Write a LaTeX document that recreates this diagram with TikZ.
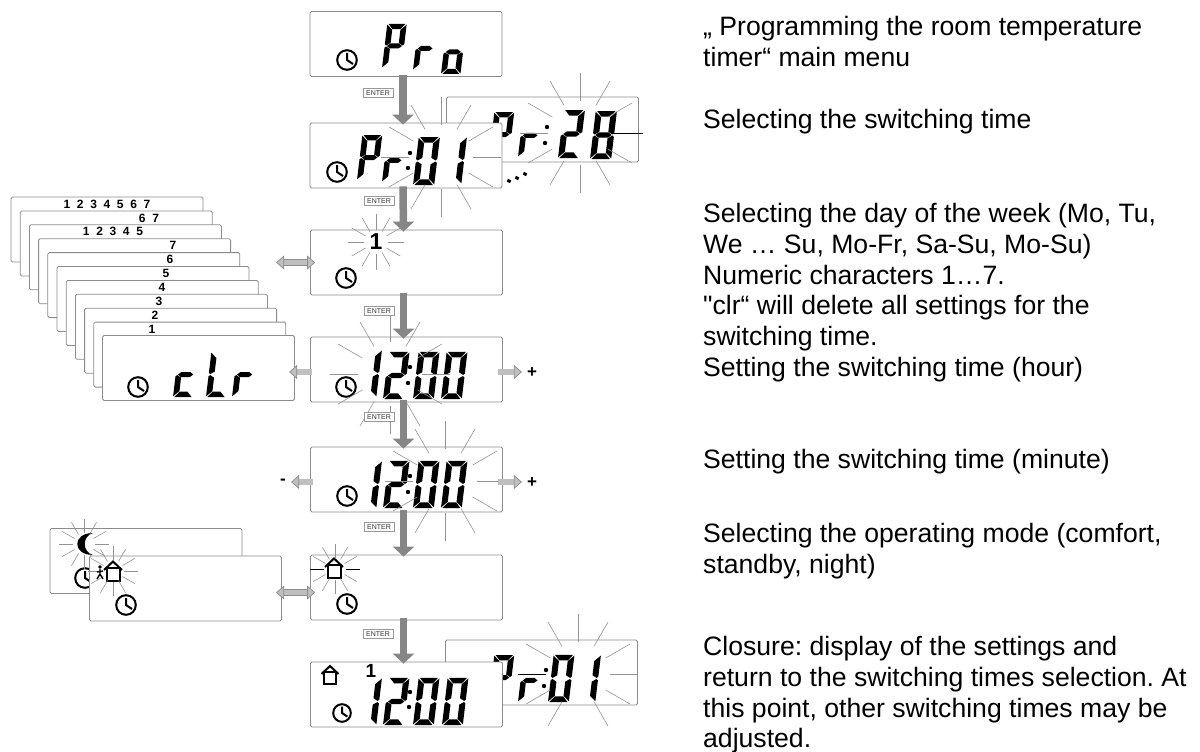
\documentclass[tikz,border=0pt]{standalone}
\usepackage{fontspec}
\setmainfont{Liberation Sans}
\newfontfamily\notefont{Liberation Sans}
\usetikzlibrary{arrows.meta, calc}

% one segment each, digit is 18 wide and 44 high, origin at the lower left
\newcommand{\sega}{(1.2,-44)--(16.8,-44)--(12.6,-38.8)--(5.4,-38.8)--cycle}
\newcommand{\segb}{(18,-43.4)--(18,-23.8)--(16.6,-22.5)--(12.8,-25)--(12.8,-38.2)--cycle}
\newcommand{\segc}{(16.6,-21.5)--(18,-20.2)--(18,-0.6)--(12.8,-5.8)--(12.8,-19)--cycle}
\newcommand{\segd}{(1.2,0)--(16.8,0)--(12.6,-5.2)--(5.4,-5.2)--cycle}
\newcommand{\sege}{(0,-0.6)--(0,-20.2)--(1.4,-21.5)--(5.2,-19)--(5.2,-5.8)--cycle}
\newcommand{\segf}{(0,-43.4)--(5.2,-38.2)--(5.2,-25)--(1.4,-22.5)--(0,-23.8)--cycle}
\newcommand{\segg}{(2,-22)--(5,-24.5)--(13,-24.5)--(16,-22)--(13,-19.5)--(5,-19.5)--cycle}

\newcommand{\lcddigit}[3]{%
  \begin{scope}[shift={#1},xslant=0.12,scale=#2,xscale=1.08]
    \foreach \s in {#3} {\fill \csname seg\s\endcsname;}
  \end{scope}}
\newcommand{\lcdcolon}[2]{\fill #1 circle (2.2); \fill #2 circle (2.2);}
\newcommand{\burst}[5][lcdray]{%
  \foreach \a in {#5} {\draw[#1] ($#2+(\a:#3)$) -- ($#2+(\a:#4)$);}}

\tikzset{
  lcdbox/.style={rectangle, draw=gray!90, fill=white, rounded corners=1.5pt, line width=0.8pt, inner sep=0pt, minimum width=192pt, minimum height=65pt},
  lcdray/.style={draw=gray!85, line width=0.6pt},
  lcdrayblack/.style={draw=black, line width=0.7pt},
  flowarrow/.style={draw=gray!95, line width=7.5pt, -{Triangle[length=10pt,width=21pt]}},
  sidearrow/.style={draw=gray!90, double=gray!50, line width=0.7pt, double distance=5.5pt, -{Triangle[length=8pt,width=14pt,fill=gray!50]}},
  swaparrow/.style={draw=gray!90, double=gray!50, line width=0.7pt, double distance=5pt, {Triangle[length=8pt,width=14pt,fill=gray!50]}-{Triangle[length=8pt,width=14pt,fill=gray!50]}},
  enterlabel/.style={rectangle, draw=gray!80, fill=white, line width=0.6pt, inner sep=0pt, minimum width=30pt, minimum height=9pt, text=black!80, font=\fontsize{7}{7}\selectfont},
  stacklabel/.style={inner sep=0pt, font=\fontsize{12}{12}\selectfont\bfseries},
  signlabel/.style={inner sep=0pt, font=\fontsize{17}{17}\selectfont\bfseries},
  notetext/.style={anchor=north west, align=left, inner sep=0pt, execute at begin node={\rule{0pt}{20pt}}, font=\notefont\fontsize{26.6}{30.8}\selectfont\frenchspacing},
  clockicon/.pic={
    \draw[line width=2pt] (0,0) circle (9.8);
    \draw[line width=2pt] (0,-7) -- (0,0) -- (6,4);
  },
  houseicon/.pic={
    \draw[line width=2pt] (-6.5,-3) rectangle (6.5,9.5);
    \draw[line width=2pt] (-9,-1) -- (0,-9.5) -- (9,-1);
  }
}

\begin{document}
\begin{tikzpicture}[x=1pt, y=-1pt]
\useasboundingbox (0,0) rectangle (1200,752);

% stack of day screens
\foreach \i/\txt/\lx in {0/{1~~2~~3~~4~~5~~6~~7}/107, 1/{6~~7}/149, 2/{1~~2~~3~~4~~5}/113, 3/7/173, 4/6/170, 5/5/166, 6/4/162, 7/3/159, 8/2/155, 9/1/152} {
    \node[lcdbox] (stack\i) at ({107+9.2*\i}, {229.5+13.9*\i}) {};
    \node[stacklabel] (daylab\i) at (\lx, {204+13.9*\i}) {\txt};
}
\node[lcdbox] (clr) at (198.5, 368) {};
\pic at (138,387) {clockicon};
\lcddigit{(173,397)}{1.02}{e,g,d}
\lcddigit{(206,397)}{1.02}{f,e,d}
\lcddigit{(232,397)}{1.02}{e,g}

% night and comfort screens
\node[lcdbox] (night) at (146,561) {};
\pic at (85,578) {clockicon};
\fill (93,533) .. controls (72,533) and (72,555) .. (93,555) .. controls (82,552) and (82,536) .. (93,533);
\burst{(84,544)}{11}{25}{0,30,...,330}
\node[lcdbox] (comfort) at (185.5,588.5) {};
\pic at (126,605) {clockicon};
\pic at (113,571) {houseicon};
\burst{(113,571)}{11}{25}{0,30,...,330}
\fill (100,567) circle (1.8);
\draw[line width=1.4pt] (100,569) -- (100,574) -- (97,579) (100,574) -- (103,579) (97,572) -- (103,571);

% screens behind the main column
\node[lcdbox] (prlast) at (542.5,129.5) {};
\lcddigit{(489,157)}{1.02}{a,b,g,e,f}
\lcddigit{(518,157)}{0.98}{e,g}
\lcdcolon{(547,127)}{(545,143)}
\lcddigit{(558,158)}{1.09}{a,b,g,e,d}
\lcddigit{(590,159)}{1.09}{a,b,c,d,e,f,g}
\burst{(580,133)}{32}{60}{30,60,90,120,150,180,210,240,270,300,330}
\burst[lcdrayblack]{(580,133)}{32}{63}{0}

\node[lcdbox] (closeback) at (541.5,672.5) {};
\lcddigit{(489,700)}{1.02}{a,b,g,e,f}
\lcddigit{(518,702)}{0.98}{e,g}
\lcdcolon{(546,670)}{(544,686)}
\lcddigit{(548,702)}{1.07}{a,b,c,d,e,f}
\lcddigit{(574.5,702)}{1.07}{b,c}
\burst{(578,674)}{32}{60}{0,30,60,120,150,210,240,270,300,330}
\burst[lcdrayblack]{(578,674)}{32}{60}{180}

% main column
\node[lcdbox] (pro) at (406,44) {};
\pic at (347,60) {clockicon};
\lcddigit{(382,68)}{1}{a,b,g,e,f}
\lcddigit{(413,70)}{0.98}{e,g}
\lcddigit{(441,74)}{1}{c,d,e,g}

\node[lcdbox] (prone) at (406,155.5) {};
\pic at (337,172) {clockicon};
\lcddigit{(357,180)}{1.02}{a,b,g,e,f}
\lcddigit{(382,182)}{0.98}{e,g}
\lcdcolon{(410,153)}{(408,168)}
\lcddigit{(413,185)}{1.09}{a,b,c,d,e,f}
\lcddigit{(440.5,184)}{1.07}{b,c}
\burst{(441,157)}{32}{60}{0,30,...,330}
\foreach \i/\dx/\dy in {0/509/181, 1/517/178, 2/525/174} {
    \fill[rotate around={-25:(\dx,\dy)}] (\dx-1.8,\dy-1.5) rectangle (\dx+1.8,\dy+1.5);
}

\node[lcdbox] (day) at (406.5,262.5) {};
\pic at (346,278) {clockicon};
\node[signlabel, font=\fontsize{23}{23}\selectfont\bfseries] (dayone) at (376,242) {1};
\burst{(376,242)}{12}{28}{0,30,...,330}

\node[lcdbox] (hour) at (406.5,369.5) {};
\pic at (346,387) {clockicon};
\lcddigit{(355.5,397)}{1.07}{b,c}
\lcddigit{(383,399)}{1.07}{a,b,g,e,d}
\lcdcolon{(410,367)}{(408,383)}
\lcddigit{(413,399)}{1.07}{a,b,c,d,e,f}
\lcddigit{(441,399)}{1.07}{a,b,c,d,e,f}
\burst{(390,374)}{32}{60}{0,30,...,330}

\node[lcdbox] (minute) at (406.5,479.5) {};
\pic at (347,496) {clockicon};
\lcddigit{(355.5,508)}{1.07}{b,c}
\lcddigit{(383,508)}{1.07}{a,b,g,e,d}
\lcdcolon{(410,476)}{(408,492)}
\lcddigit{(413,508)}{1.07}{a,b,c,d,e,f}
\lcddigit{(441,508)}{1.07}{a,b,c,d,e,f}
\burst{(445,481)}{32}{60}{0,30,...,330}

\node[lcdbox] (mode) at (406.5,587.5) {};
\pic at (347,604) {clockicon};
\pic at (334,568) {houseicon};
\burst{(335,569)}{11}{25}{30,60,...,150,210,240,...,330}
\burst[lcdrayblack]{(335,569)}{11}{25}{0,180}

\node[lcdbox] (close) at (406.5,694.5) {};
\pic[scale=0.9] at (342,713) {clockicon};
\pic[scale=0.95] at (330,675) {houseicon};
\lcddigit{(355.5,725)}{1.07}{b,c}
\lcddigit{(383,725)}{1.07}{a,b,g,e,d}
\lcdcolon{(410,692)}{(409,707)}
\lcddigit{(413,725)}{1.07}{a,b,c,d,e,f}
\lcddigit{(442,725)}{1.07}{a,b,c,d,e,f}
\node[signlabel, font=\fontsize{19}{19}\selectfont\bfseries] (closeone) at (371,671) {1};

% ENTER arrows
\foreach \i/\a/\b/\ex/\ey in {1/pro/prone/378/93, 2/prone/day/379/201, 3/day/hour/379/311, 4/hour/minute/379/417, 5/minute/mode/379/527, 6/mode/close/378/634} {
    \node[enterlabel] (enter\i) at (\ex,\ey) {ENTER};
    \draw[flowarrow] ([shift={(-3,-2)}]\a.south) -- ([shift={(-3,2)}]\b.north);
}

% side arrows
\draw[swaparrow] ([xshift=-34pt]day.west) -- ([xshift=5pt]day.west);
\draw[swaparrow] ([shift={(-34,5)}]mode.west) -- ([shift={(5,5)}]mode.west);
\draw[sidearrow] ([shift={(2,2.5)}]hour.west) -- ([shift={(-21,2.5)}]hour.west);
\draw[sidearrow] ([shift={(-5,2.5)}]hour.east) -- ([shift={(19,2.5)}]hour.east);
\draw[sidearrow] ([shift={(3,2.5)}]minute.west) -- ([shift={(-19,2.5)}]minute.west);
\draw[sidearrow] ([shift={(-5,2.5)}]minute.east) -- ([shift={(19,2.5)}]minute.east);
\node[signlabel] (hourplus) at (532,373) {+};
\node[signlabel] (minplus) at (532,483) {+};
\node[signlabel] (minminus) at (283,482) {-};

% notes on the right
\node[notetext] (note1) at (703,16) {„ Programming the room temperature\\timer“ main menu};
\node[notetext] (note2) at (703,108) {Selecting the switching time};
\node[notetext] (note3) at (703,203) {Selecting the day of the week (Mo, Tu,\\We … Su, Mo-Fr, Sa-Su, Mo-Su)\\Numeric characters 1…7.\\"clr“ will delete all settings for the\\switching time.\\Setting the switching time (hour)};
\node[notetext] (note4) at (703,448) {Setting the switching time (minute)};
\node[notetext] (note5) at (703,523) {Selecting the operating mode (comfort,\\standby, night)};
\node[notetext] (note6) at (703,636) {Closure: display of the settings and\\return to the switching times selection. At\\this point, other switching times may be\\adjusted.};

\end{tikzpicture}
\end{document}
